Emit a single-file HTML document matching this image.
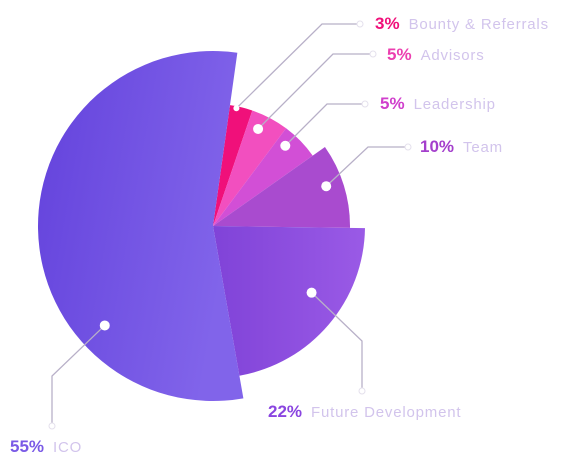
<!DOCTYPE html>
<html><head><meta charset="utf-8"><style>
html,body{margin:0;padding:0;background:#fff;width:573px;height:466px;overflow:hidden}
svg{display:block;font-family:"Liberation Sans",sans-serif}
</style></head><body>
<svg id="chart" width="573" height="466" viewBox="0 0 573 466">
<defs>
<linearGradient id="gIco" x1="0" y1="0" x2="1" y2="0.3"><stop offset="0" stop-color="#6342dc"/><stop offset="1" stop-color="#8164ea"/></linearGradient>
<linearGradient id="gFut" x1="0" y1="0" x2="1" y2="0"><stop offset="0" stop-color="#8043d8"/><stop offset="1" stop-color="#9a5ae6"/></linearGradient>
</defs>
<g id="slices"></g><g id="leaders"></g><g id="labels"></g>
</svg>
<script>
const categories = ["Bounty & Referrals","Advisors","Leadership","Team","Future Development","ICO"];
const percents = [3,5,5,10,22,55];
const pctLabels = ["3%","5%","5%","10%","22%","55%"];
const radii = [122,122,122,137,152,175];
const NS="http://www.w3.org/2000/svg";
const cx=213, cy=226, startDeg=8;
const fills=["#f0107a","#f24fbf","#d24fd6","#a94bcf","url(#gFut)","url(#gIco)"];
const pctColors=["#f0107a","#ec3fb0","#d03fcc","#a43fcc","#8a45e0","#7a5ae6"];
const labelPos=[[375,29],[387,60],[380,109],[420,152],[268,417],[10,452]];
const leaderPts=[[[322,24],[360,24]],[[333,54],[373,54]],[[327,104],[365,104]],[[368,147],[408,147]],[[362,341],[362,391]],[[52,376],[52,426]]];
const dotFrac=[0.3,0.34,0.29,0.44,0.42,0.29];
const dotR=[122,107,108,120,119,147];
const total=percents.reduce((a,b)=>a+b,0);
function pt(r,deg){const a=(deg-90)*Math.PI/180;return [cx+r*Math.cos(a),cy+r*Math.sin(a)];}
let ang=startDeg;
const sg=document.getElementById('slices'),lg=document.getElementById('leaders'),tg=document.getElementById('labels');
percents.forEach((p,i)=>{
  const sweep=p/total*360, a0=ang, a1=ang+sweep; ang=a1;
  const r=radii[i], s=pt(r,a0), e=pt(r,a1);
  const path=document.createElementNS(NS,'path');
  path.setAttribute('d',`M${cx},${cy}L${s[0]},${s[1]}A${r},${r} 0 ${sweep>180?1:0} 1 ${e[0]},${e[1]}Z`);
  path.setAttribute('fill',fills[i]);
  
  
  sg.appendChild(path);
  const d=pt(dotR[i]-(i===0?2:0),a0+sweep*dotFrac[i]);
  const lp=leaderPts[i];
  const pl=document.createElementNS(NS,'polyline');
  pl.setAttribute('points',`${d[0]},${d[1]} ${lp[0][0]},${lp[0][1]} ${lp[1][0]},${lp[1][1]}`);
  pl.setAttribute('fill','none');pl.setAttribute('stroke','#b8b0c8');pl.setAttribute('stroke-width','1.3');
  
  
  lg.appendChild(pl);
  const dot=document.createElementNS(NS,'circle');
  dot.setAttribute('cx',d[0]);dot.setAttribute('cy',d[1]);dot.setAttribute('r',i===0?3:5);dot.setAttribute('fill','#fff');
  
  
  lg.appendChild(dot);
  const ec=document.createElementNS(NS,'circle');
  ec.setAttribute('cx',lp[1][0]);ec.setAttribute('cy',lp[1][1]);ec.setAttribute('r',3);ec.setAttribute('fill','#fff');ec.setAttribute('stroke','#e4e0ec');
  
  
  lg.appendChild(ec);
  const t=document.createElementNS(NS,'text');
  t.setAttribute('x',labelPos[i][0]);t.setAttribute('y',labelPos[i][1]);t.setAttribute('font-size','17');
  
  
  const t1=document.createElementNS(NS,'tspan');t1.setAttribute('font-weight','bold');t1.setAttribute('fill',pctColors[i]);t1.textContent=pctLabels[i];
  const t2=document.createElementNS(NS,'tspan');t2.setAttribute('fill','#d2c4ec');t2.setAttribute('dx','9');t2.setAttribute('font-size','15');t2.setAttribute('letter-spacing','0.8');t2.textContent=categories[i];
  t.appendChild(t1);t.appendChild(t2);tg.appendChild(t);
});
</script>
</body></html>
